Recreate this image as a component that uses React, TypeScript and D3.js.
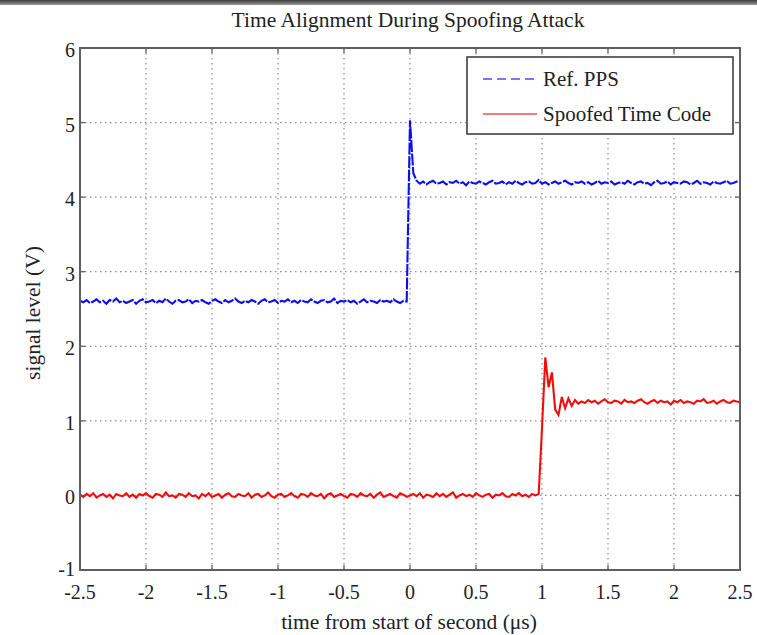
import React from "react";
import * as d3 from "d3";

const TITLE = "Time Alignment During Spoofing Attack";
const X_LABEL = "time from start of second (\u03bcs)";
const Y_LABEL = "signal level (V)";
const SERIES_NAMES = ["Ref. PPS", "Spoofed Time Code"];
const X_TICKS = [-2.5, -2, -1.5, -1, -0.5, 0, 0.5, 1, 1.5, 2, 2.5];
const Y_TICKS = [-1, 0, 1, 2, 3, 4, 5, 6];

// sample grid: 201 samples, step 0.025 µs from -2.5 to 2.5
const SAMPLE_COUNT = 201;
const SAMPLE_START = -2.5;
const SAMPLE_STEP = 0.025;

const refPPS = [
  2.61,2.59,2.62,2.58,2.60,2.63,2.59,2.61,2.57,2.62,
  2.60,2.64,2.59,2.61,2.58,2.60,2.62,2.57,2.61,2.63,
  2.59,2.60,2.62,2.58,2.61,2.59,2.64,2.60,2.57,2.61,
  2.62,2.59,2.60,2.63,2.58,2.61,2.60,2.62,2.59,2.57,
  2.61,2.63,2.60,2.58,2.62,2.59,2.61,2.64,2.60,2.58,
  2.61,2.59,2.62,2.60,2.57,2.61,2.63,2.59,2.60,2.62,
  2.58,2.61,2.60,2.63,2.59,2.61,2.58,2.62,2.60,2.59,
  2.63,2.60,2.58,2.61,2.62,2.59,2.60,2.64,2.58,2.61,
  2.60,2.62,2.59,2.61,2.57,2.60,2.63,2.59,2.61,2.60,
  2.58,2.62,2.60,2.61,2.59,2.63,2.60,2.58,2.61,2.60,
  5.03,
  4.32,4.22,4.18,4.21,4.17,4.20,4.22,4.18,4.19,4.21,
  4.17,4.20,4.19,4.22,4.18,4.20,4.16,4.21,4.19,4.18,
  4.21,4.19,4.17,4.20,4.22,4.18,4.19,4.21,4.17,4.20,
  4.18,4.22,4.19,4.17,4.20,4.21,4.18,4.19,4.23,4.18,
  4.20,4.17,4.19,4.21,4.18,4.20,4.22,4.19,4.17,4.20,
  4.19,4.21,4.18,4.20,4.17,4.19,4.22,4.18,4.20,4.19,
  4.21,4.17,4.19,4.20,4.18,4.22,4.19,4.17,4.20,4.21,
  4.18,4.19,4.16,4.20,4.22,4.18,4.19,4.21,4.17,4.20,
  4.19,4.18,4.21,4.20,4.17,4.19,4.22,4.18,4.20,4.19,
  4.17,4.21,4.19,4.18,4.20,4.22,4.18,4.19,4.21,4.20,
];

const spoofedTimeCode = [
  0.01,-0.02,0.02,-0.01,0.03,-0.03,0.00,0.02,-0.02,0.01,
  -0.04,0.02,0.00,-0.01,0.03,-0.02,0.01,-0.03,0.02,0.00,
  0.03,-0.01,-0.03,0.02,0.01,-0.02,0.04,-0.01,0.00,-0.03,
  0.02,0.01,-0.02,0.03,-0.01,0.00,-0.04,0.02,-0.01,0.03,
  -0.02,0.00,0.02,-0.03,0.01,0.03,-0.01,-0.02,0.02,0.00,
  -0.01,0.03,-0.03,0.01,0.02,-0.02,0.00,0.04,-0.01,-0.03,
  0.01,0.02,-0.02,0.00,0.03,-0.01,-0.03,0.02,0.01,-0.02,
  0.03,0.00,-0.01,0.02,-0.04,0.01,0.03,-0.02,0.00,0.02,
  -0.01,-0.03,0.02,0.01,-0.02,0.03,0.00,-0.01,0.02,-0.03,
  0.01,0.04,-0.02,0.00,0.02,-0.01,-0.03,0.03,0.01,-0.02,
  0.00,0.02,-0.01,0.03,-0.03,0.01,0.00,-0.02,0.03,-0.01,
  0.02,-0.02,0.01,0.04,-0.03,0.00,0.02,-0.01,0.01,-0.02,
  0.03,0.00,-0.02,0.01,0.02,-0.03,0.01,0.00,0.03,-0.01,
  -0.02,0.02,0.00,0.03,-0.01,0.01,-0.02,0.02,0.00,0.02,
  0.90,1.85,1.45,1.65,1.15,1.08,1.32,1.17,1.30,1.20,1.28,1.23,
  1.26,1.24,1.28,1.25,1.27,1.23,1.26,1.29,1.25,1.24,
  1.27,1.26,1.23,1.28,1.25,1.26,1.24,1.27,1.29,1.25,
  1.23,1.26,1.28,1.24,1.27,1.25,1.26,1.22,1.27,1.25,
  1.28,1.24,1.26,1.25,1.23,1.27,1.26,1.29,1.24,1.25,
  1.27,1.23,1.26,1.28,1.25,1.24,1.27,1.26,1.25,
];

const SERIES_COLORS = ["#1010f0", "#f01010"];

const W = 757;
const H = 635;
const M = { left: 80, right: 740, top: 48, bottom: 570 };
const FONT = "'Liberation Serif', 'Times New Roman', serif";

export default function App() {
  const x = d3.scaleLinear().domain([-2.5, 2.5]).range([M.left, M.right]);
  const y = d3.scaleLinear().domain([-1, 6]).range([M.bottom, M.top]);
  const times = d3.range(SAMPLE_COUNT).map((i) => SAMPLE_START + i * SAMPLE_STEP);
  const line = d3
    .line<number>()
    .x((_, i) => x(times[i]))
    .y((d) => y(d));

  const tickLen = 5;
  const gridColor = "#8a8d96";

  return (
    <svg
      width={W}
      height={H}
      style={{ position: "absolute", left: 0, top: 0, background: "#fff" }}
      fontFamily={FONT}
    >
      <defs>
        <linearGradient id="topbar" x1="0" y1="0" x2="0" y2="1">
          <stop offset="0" stopColor="#3c3c3c" />
          <stop offset="1" stopColor="#9a9a9a" />
        </linearGradient>
        <filter id="soft" x="-5%" y="-5%" width="110%" height="110%">
          <feGaussianBlur stdDeviation="0.6" />
        </filter>
        <clipPath id="plotclip">
          <rect x={M.left} y={M.top} width={M.right - M.left} height={M.bottom - M.top} />
        </clipPath>
      </defs>
      <rect x={0} y={0} width={W} height={H} fill="#fff" />
      <rect x={0} y={0} width={W} height={5} fill="url(#topbar)" />

      <text x={408} y={27} textAnchor="middle" fontSize={21.5} fill="#222">
        {TITLE}
      </text>

      {/* grid */}
      <g stroke={gridColor} strokeWidth={1.2} strokeDasharray="1.5,3.5">
        {X_TICKS.slice(1, -1).map((t) => (
          <line key={"gx" + t} x1={x(t)} x2={x(t)} y1={M.top} y2={M.bottom} />
        ))}
        {Y_TICKS.slice(1, -1).map((t) => (
          <line key={"gy" + t} x1={M.left} x2={M.right} y1={y(t)} y2={y(t)} />
        ))}
      </g>

      {/* data */}
      <g clipPath="url(#plotclip)" filter="url(#soft)">
        <path
          d={line(refPPS) || ""}
          fill="none"
          stroke={SERIES_COLORS[0]}
          strokeWidth={2.1}
          strokeDasharray="12,1.5"
        />
        <path d={line(spoofedTimeCode) || ""} fill="none" stroke={SERIES_COLORS[1]} strokeWidth={2.1} />
      </g>

      {/* frame + ticks */}
      <g stroke="#5f5f5f" strokeWidth={1.3}>
        {X_TICKS.map((t) => (
          <g key={"tx" + t}>
            <line x1={x(t)} x2={x(t)} y1={M.bottom} y2={M.bottom - tickLen} />
            <line x1={x(t)} x2={x(t)} y1={M.top} y2={M.top + tickLen} />
          </g>
        ))}
        {Y_TICKS.map((t) => (
          <g key={"ty" + t}>
            <line x1={M.left} x2={M.left + tickLen} y1={y(t)} y2={y(t)} />
            <line x1={M.right} x2={M.right - tickLen} y1={y(t)} y2={y(t)} />
          </g>
        ))}
      </g>
      <rect
        x={M.left}
        y={M.top}
        width={M.right - M.left}
        height={M.bottom - M.top}
        fill="none"
        stroke="#5f5f5f"
        strokeWidth={2}
      />

      {/* tick labels */}
      <g fontSize={20} fill="#222">
        {X_TICKS.map((t) => (
          <text key={"lx" + t} x={x(t)} y={599} textAnchor="middle">
            {String(t)}
          </text>
        ))}
        {Y_TICKS.map((t) => (
          <text key={"ly" + t} x={M.left - 5} y={y(t) + (t === -1 ? 6 : 9)} textAnchor="end">
            {String(t)}
          </text>
        ))}
      </g>

      <text x={409} y={629} textAnchor="middle" fontSize={21.5} fill="#222">
        {X_LABEL}
      </text>
      <text
        transform={`translate(40,313) rotate(-90)`}
        textAnchor="middle"
        fontSize={21.5}
        fill="#222"
      >
        {Y_LABEL}
      </text>

      {/* legend */}
      <g>
        <rect x={467} y={57} width={266} height={77} fill="#fff" stroke="#333" strokeWidth={1.5} />
        <line x1={483} x2={537} y1={79} y2={79} stroke={SERIES_COLORS[0]} strokeWidth={1.6} strokeDasharray="9,5" opacity={0.75} />
        <line x1={483} x2={537} y1={114} y2={114} stroke={SERIES_COLORS[1]} strokeWidth={1.6} opacity={0.75} />
        <text x={543} y={86} fontSize={21} fill="#222">{SERIES_NAMES[0]}</text>
        <text x={543} y={121} fontSize={21} fill="#222">{SERIES_NAMES[1]}</text>
      </g>
    </svg>
  );
}
